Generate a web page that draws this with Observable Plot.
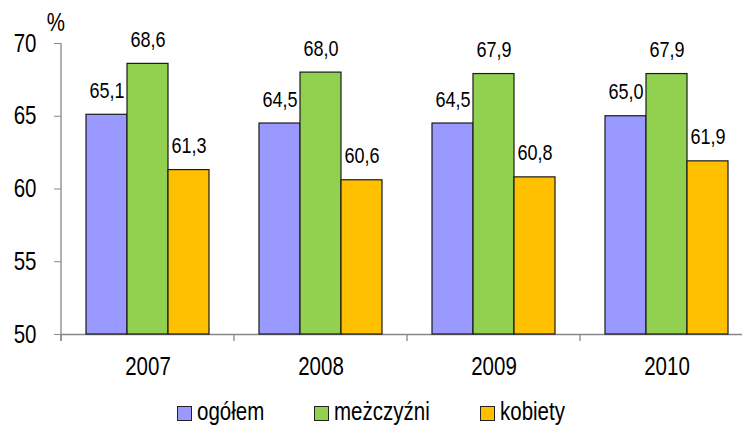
<!DOCTYPE html>
<html>
<head>
<meta charset="utf-8">
<script src="https://cdn.jsdelivr.net/npm/d3@7"></script>
<script src="https://cdn.jsdelivr.net/npm/@observablehq/plot@0.6"></script>
<style>
  body { margin: 0; background: white; }
  #wrap { position: relative; width: 742px; height: 426px; overflow: hidden; background: white; }
  #legend { position: absolute; left: 177px; top: 399px; display: flex; align-items: center;
    font-family: "Liberation Sans", Arial, sans-serif; font-size: 25px; color: #000; line-height: 25px; }
  .item { display: flex; align-items: center; }
  .sw { width: 15px; height: 15px; box-sizing: border-box; border: 1px solid #222; margin-top: 4px; margin-right: 5px; }
  .lab { display: inline-block; transform: scaleX(0.82); transform-origin: 0 50%; }
</style>
</head>
<body>
<div id="wrap"></div>
<script>
const years = ["2007", "2008", "2009", "2010"];
const series = ["ogółem", "meżczyźni", "kobiety"];
const ogolem = [65.1, 64.5, 64.5, 65.0];
const mezczyzni = [68.6, 68.0, 67.9, 67.9];
const kobiety = [61.3, 60.6, 60.8, 61.9];
const colors = ["#9999FF", "#92D050", "#FFC000"];
const yTicks = [50, 55, 60, 65, 70];
const unitLabel = "%";

const FONT = '"Liberation Sans", Arial, sans-serif';
const NARROW = 0.82;
const valuesBySeries = [ogolem, mezczyzni, kobiety];
const data = years.flatMap((year, i) => series.map((s, j) => ({year, series: s, value: valuesBySeries[j][i]})));

const chart = Plot.plot({
  width: 742,
  height: 385,
  marginTop: 43,
  marginBottom: 51,
  marginLeft: 61,
  marginRight: -11,
  style: {fontFamily: FONT, fontSize: "25px", color: "black", background: "white", overflow: "hidden"},
  fx: {domain: years, padding: 0, label: null},
  x: {domain: series, paddingInner: 0, paddingOuter: 0.576, axis: null},
  y: {domain: [50, 70], label: null},
  color: {domain: series, range: colors},
  marks: [
    Plot.ruleY([50], {stroke: "#888", strokeWidth: 1.3}),
    Plot.barY(data, {fx: "year", x: "series", y1: 50, y2: "value", fill: "series", stroke: "#1a1a1a", strokeWidth: 1.2}),
    Plot.text(data, {fx: "year", x: "series", y: "value", text: d => d.value.toFixed(1).replace(".", ","), dy: -24, fontSize: 22, fill: "black"}),
    Plot.axisY({ticks: yTicks, tickSize: 7, tickPadding: 18, stroke: "#888", fill: "black", label: null, fontSize: 25}),
    Plot.axisFx({anchor: "bottom", tickSize: 0, tickPadding: 23, label: null, fontSize: 25, fill: "black"})
  ]
});

// axis lines and group boundary ticks, positioned with Plot's own scales
const fx = chart.scale("fx");
const y = chart.scale("y");
const svg = d3.select(chart);
const y50 = y.apply(50), y70 = y.apply(70);
const bounds = years.map(yr => fx.apply(yr)).concat([fx.apply(years[years.length - 1]) + fx.bandwidth]);
const g = svg.append("g").attr("stroke", "#888").attr("stroke-width", 1.3);
g.append("line").attr("x1", bounds[0]).attr("x2", bounds[0]).attr("y1", y70).attr("y2", y50 + 7);
bounds.forEach(b => g.append("line").attr("x1", b).attr("x2", b).attr("y1", y50).attr("y2", y50 + 7));
svg.append("text").attr("x", bounds[0] - 5).attr("y", 31).attr("text-anchor", "middle")
  .attr("font-size", 25).attr("fill", "black").text(unitLabel);

const wrap = document.getElementById("wrap");
wrap.appendChild(chart);

// condense all svg texts horizontally around their anchor (narrow face look)
chart.querySelectorAll("text").forEach(t => {
  const bb = t.getBBox();
  const anchor = getComputedStyle(t).textAnchor;
  let ax = anchor === "middle" ? bb.x + bb.width / 2 : anchor === "end" ? bb.x + bb.width : bb.x;
  const m = t.transform.baseVal.consolidate();
  if (m) ax = m.matrix.a * ax + m.matrix.e;
  const wrapper = document.createElementNS("http://www.w3.org/2000/svg", "g");
  wrapper.setAttribute("transform", `translate(${ax},0) scale(${NARROW},1) translate(${-ax},0)`);
  t.parentNode.insertBefore(wrapper, t);
  wrapper.appendChild(t);
});

const legend = document.createElement("div");
legend.id = "legend";
wrap.appendChild(legend);
series.forEach((s, j) => {
  const item = document.createElement("div");
  item.className = "item";
  const sw = document.createElement("div");
  sw.className = "sw";
  sw.style.background = colors[j];
  const t = document.createElement("span");
  t.className = "lab";
  t.textContent = s;
  item.appendChild(sw);
  item.appendChild(t);
  legend.appendChild(item);
  const w = t.getBoundingClientRect().width / NARROW;
  t.style.marginRight = (j < series.length - 1 ? 50 - w * (1 - NARROW) : -w * (1 - NARROW)) + "px";
});
</script>
</body>
</html>
